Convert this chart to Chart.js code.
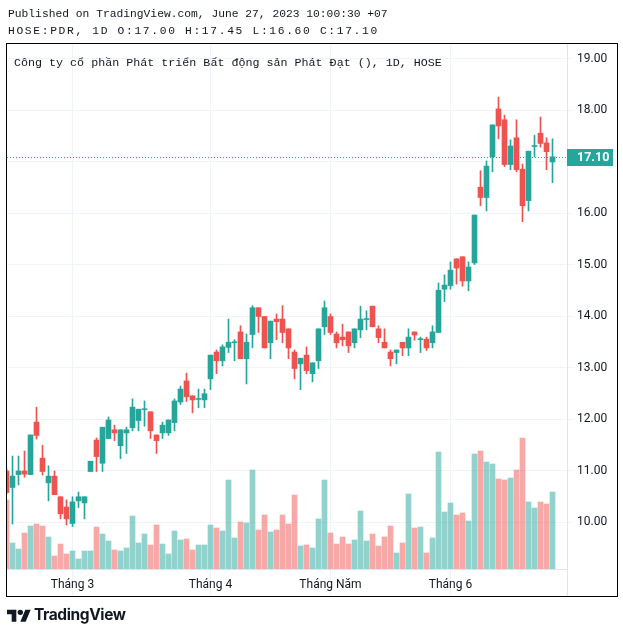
<!DOCTYPE html>
<html>
<head>
<meta charset="utf-8">
<script src="https://cdn.jsdelivr.net/npm/chart.js@4"></script>
<style>
body { margin: 0; background: #fff; width: 623px; height: 634px; position: relative; overflow: hidden; }
#chart { position: absolute; left: 0; top: 0; }
.t { position: absolute; font-family: "Liberation Mono", "DejaVu Sans Mono", monospace; color: #131722; white-space: nowrap; }
#logo { position: absolute; left: 7px; top: 605px; display: flex; align-items: center; gap: 3px;
        font-family: Inter, "Noto Sans", sans-serif; font-weight: 700; font-size: 15.5px; color: #131722; letter-spacing: -0.4px; }
</style>
</head>
<body>
<canvas id="chart" width="623" height="634"></canvas>
<div class="t" style="left:8px;top:8px;font-size:11.3px">Published on TradingView.com, June 27, 2023 10:00:30 +07</div>
<div class="t" style="left:8px;top:25px;font-size:11.3px;letter-spacing:1.65px">HOSE:PDR, 1D O:17.00 H:17.45 L:16.60 C:17.10</div>
<div class="t" style="left:14px;top:56px;font-size:11.7px">Công ty cổ phần Phát triển Bất động sản Phát Đạt (), 1D, HOSE</div>
<div id="logo">
  <svg width="24" height="16" viewBox="0 0 36 24"><path d="M14 22H7V11H0V4h14v18zM28 22h-8l7.5-18h8L28 22z" fill="#131722"/><circle cx="20" cy="8" r="4" fill="#131722"/></svg>
  <span>TradingView</span>
</div>
<script>
// daily candles, HOSE:PDR, Feb 14 - Jun 27 2023
const open = [11.00, 10.68, 10.93, 11.00, 10.93, 11.95, 11.25, 10.77, 10.90, 10.50,
  10.30, 9.98, 10.42, 10.38, 10.99, 11.60, 11.15, 11.63, 11.80, 11.49,
  11.74, 11.84, 11.98, 12.19, 12.15, 11.70, 11.74, 11.74, 11.94, 12.34,
  12.75, 12.46, 12.39, 12.38, 12.79, 13.31, 13.14, 13.40, 13.49, 13.70,
  13.18, 13.65, 14.17, 14.00, 13.49, 13.95, 13.95, 13.76, 13.31, 13.08,
  13.25, 12.89, 13.14, 13.80, 14.00, 13.66, 13.60, 13.70, 13.49, 13.74,
  13.94, 14.20, 13.76, 13.50, 13.31, 13.30, 13.50, 13.39, 13.70, 13.55,
  13.56, 13.49, 13.69, 14.53, 14.60, 15.12, 15.16, 14.69, 15.04, 16.51,
  16.31, 17.10, 18.03, 17.82, 16.95, 17.47, 16.86, 16.25, 17.30, 17.56,
  17.37, 17.00];
const high = [11.05, 11.29, 11.29, 11.39, 11.70, 12.24, 11.50, 11.10, 11.00, 10.50,
  10.44, 10.50, 10.59, 10.50, 11.19, 11.64, 11.85, 12.05, 11.89, 11.80,
  11.85, 12.40, 12.20, 12.36, 12.15, 11.70, 11.95, 11.99, 12.40, 12.65,
  12.90, 12.46, 12.59, 12.59, 13.25, 13.35, 13.45, 13.95, 13.55, 13.82,
  13.66, 14.21, 14.17, 14.00, 13.91, 14.05, 14.21, 13.76, 13.35, 13.19,
  13.41, 13.10, 13.76, 14.30, 14.05, 13.70, 13.85, 13.70, 13.76, 14.20,
  14.11, 14.20, 13.82, 13.76, 13.35, 13.35, 13.50, 13.76, 13.70, 13.60,
  13.60, 13.82, 14.65, 14.81, 15.06, 15.12, 15.16, 15.06, 15.97, 16.83,
  17.02, 17.72, 18.26, 17.91, 17.43, 17.82, 16.96, 17.21, 17.52, 17.87,
  17.47, 17.45];
const low = [10.55, 9.97, 10.73, 10.88, 10.93, 11.62, 10.92, 10.42, 10.54, 10.07,
  9.95, 9.92, 10.29, 10.07, 10.99, 10.99, 10.99, 11.63, 11.59, 11.24,
  11.34, 11.78, 11.78, 11.87, 11.63, 11.34, 11.63, 11.69, 11.78, 12.29,
  12.35, 12.13, 12.23, 12.23, 12.58, 12.89, 13.04, 13.30, 13.14, 13.18,
  12.69, 13.39, 13.69, 13.39, 13.18, 13.55, 13.49, 13.18, 12.79, 12.58,
  12.89, 12.73, 12.99, 13.65, 13.65, 13.39, 13.43, 13.30, 13.39, 13.59,
  13.74, 13.80, 13.49, 13.39, 13.04, 13.08, 13.24, 13.24, 13.54, 13.30,
  13.34, 13.39, 13.69, 14.29, 14.53, 14.63, 14.59, 14.50, 15.01, 16.15,
  16.05, 16.81, 17.45, 16.91, 16.85, 16.81, 15.84, 16.05, 17.10, 17.29,
  16.85, 16.60];
const close = [10.58, 10.90, 11.00, 10.94, 11.70, 11.69, 10.99, 10.90, 10.54, 10.17,
  10.07, 10.40, 10.50, 10.50, 11.19, 11.28, 11.85, 11.99, 11.74, 11.80,
  11.80, 12.24, 12.20, 12.20, 11.78, 11.59, 11.89, 11.99, 12.36, 12.59,
  12.44, 12.38, 12.40, 12.50, 13.25, 13.14, 13.41, 13.50, 13.50, 13.18,
  13.50, 14.17, 14.00, 13.39, 13.91, 13.90, 13.69, 13.39, 12.99, 13.19,
  12.95, 13.10, 13.76, 14.17, 13.69, 13.49, 13.55, 13.43, 13.76, 13.95,
  13.95, 13.80, 13.59, 13.39, 13.18, 13.35, 13.39, 13.60, 13.64, 13.56,
  13.39, 13.70, 14.51, 14.61, 14.90, 14.94, 14.69, 14.96, 15.97, 16.31,
  16.92, 17.72, 17.70, 16.95, 17.31, 16.85, 16.15, 17.21, 17.31, 17.36,
  17.20, 17.10];
const volume = [69, 26, 20, 36, 43, 45, 43, 32, 13, 25,
  15, 18, 10, 18, 18, 42, 35, 28, 19, 18,
  21, 53, 26, 35, 24, 44, 25, 15, 38, 29,
  30, 19, 24, 24, 44, 41, 38, 89, 31, 47,
  46, 99, 39, 54, 37, 39, 54, 45, 74, 23,
  24, 21, 50, 89, 36, 25, 32, 25, 29, 58,
  28, 35, 23, 32, 43, 16, 26, 75, 41, 42,
  16, 31, 117, 57, 66, 54, 56, 48, 115, 118,
  107, 105, 90, 89, 91, 99, 131, 67, 61, 67,
  65, 77];

const monthIdx = [11, 34, 54, 74];
const monthLabels = ['Tháng 3', 'Tháng 4', 'Tháng Năm', 'Tháng 6'];
const priceTicks = [10, 11, 12, 13, 14, 15, 16, 17, 18, 19];

const UP = '#26a69a', DOWN = '#ef5350';
const idx = open.map((_, i) => i);
const isUp = idx.map(i => close[i] >= open[i]);
const candleColor = isUp.map(u => u ? UP : DOWN);
const volColor = isUp.map(u => u ? 'rgba(38,166,154,0.5)' : 'rgba(239,83,80,0.5)');

const axisFont = { family: 'Roboto, "Liberation Sans", sans-serif', size: 12 };
const gridColor = '#f0f3fa';

// price line, price label, frame
const overlay = {
  id: 'overlay',
  afterDatasetsDraw(chart) {
    const { ctx, chartArea: a, scales: { y } } = chart;
    const py = Math.round(y.getPixelForValue(close[close.length - 1])) + 0.5;
    ctx.save();
    ctx.strokeStyle = UP;
    ctx.lineWidth = 1;
    ctx.setLineDash([1, 2]);
    ctx.beginPath();
    ctx.moveTo(a.left, py);
    ctx.lineTo(a.right, py);
    ctx.stroke();
    ctx.restore();
  },
  afterDraw(chart) {
    const { ctx, chartArea: a, scales: { y } } = chart;
    const last = close[close.length - 1];
    const py = Math.round(y.getPixelForValue(last));
    ctx.save();
    ctx.fillStyle = UP;
    ctx.fillRect(a.right, py - 8, 46, 17);
    ctx.fillStyle = '#fff';
    ctx.font = 'bold 12.5px Roboto, "Liberation Sans", sans-serif';
    ctx.textBaseline = 'middle';
    ctx.fillText(last.toFixed(2), a.right + 10, py + 0.5);
    // axis separator through time axis
    ctx.strokeStyle = '#e0e3eb';
    ctx.lineWidth = 1;
    ctx.beginPath();
    ctx.moveTo(a.right + 0.5, a.bottom);
    ctx.lineTo(a.right + 0.5, 597);
    ctx.stroke();
    // outer frame
    ctx.strokeStyle = '#000';
    ctx.strokeRect(6.5, 43.5, 611, 553);
    ctx.restore();
  }
};

new Chart(document.getElementById('chart'), {
  type: 'bar',
  data: {
    datasets: [
      {
        label: 'Body',
        data: idx.map(i => ({ x: i, y: [Math.min(open[i], close[i]), Math.max(open[i], close[i])] })),
        backgroundColor: candleColor,
        barThickness: 5,
        minBarLength: 1,
        grouped: false,
        order: 1,
        yAxisID: 'y'
      },
      {
        label: 'Wick',
        data: idx.map(i => ({ x: i, y: [low[i], high[i]] })),
        backgroundColor: candleColor,
        barThickness: 1,
        grouped: false,
        order: 2,
        yAxisID: 'y'
      },
      {
        label: 'Volume',
        data: idx.map(i => ({ x: i, y: volume[i] })),
        backgroundColor: volColor,
        barThickness: 5,
        grouped: false,
        order: 3,
        yAxisID: 'yv'
      }
    ]
  },
  options: {
    responsive: false,
    animation: false,
    layout: { padding: { left: 7, top: 44, right: 6, bottom: 37 } },
    plugins: { legend: { display: false }, tooltip: { enabled: false } },
    scales: {
      x: {
        type: 'linear',
        min: 0.0833,
        max: 93.4167,
        offset: false,
        afterBuildTicks: s => { s.ticks = monthIdx.map(v => ({ value: v })); },
        afterFit: s => { s.height = 28; },
        ticks: {
          callback: v => monthLabels[monthIdx.indexOf(v)],
          padding: -19,
          maxRotation: 0,
          autoSkip: false,
          font: axisFont,
          color: '#131722'
        },
        grid: { color: gridColor, tickLength: 28, offset: false },
        border: { color: '#e0e3eb' }
      },
      y: {
        position: 'right',
        min: 9.097,
        max: 19.291,
        afterBuildTicks: s => { s.ticks = priceTicks.map(v => ({ value: v })); },
        afterFit: s => { s.width = 50; },
        ticks: {
          callback: v => v.toFixed(2),
          padding: 4,
          font: axisFont,
          color: '#131722'
        },
        grid: { color: gridColor, tickLength: 6 },
        border: { color: '#e0e3eb' }
      },
      yv: {
        display: false,
        min: 0,
        max: 525
      }
    }
  },
  plugins: [overlay]
});
</script>
</body>
</html>
